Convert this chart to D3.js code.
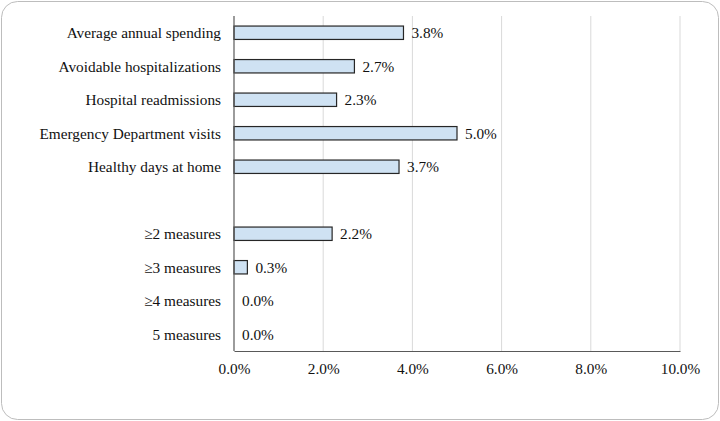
<!DOCTYPE html>
<html>
<head>
<meta charset="utf-8">
<script src="https://cdn.jsdelivr.net/npm/d3@7"></script>
<style>
  html, body { margin: 0; padding: 0; background: #fff; }
  #chart { width: 720px; height: 421px; }
</style>
</head>
<body>
<div id="chart"></div>
<script>
// 데이터
const categories = [
    'Average annual spending',
    'Avoidable hospitalizations',
    'Hospital readmissions',
    'Emergency Department visits',
    'Healthy days at home',
    '',
    '\u22652 measures',
    '\u22653 measures',
    '\u22654 measures',
    '5 measures'
];
const values = [3.8, 2.7, 2.3, 5.0, 3.7, null, 2.2, 0.3, 0.0, 0.0];
const tickValues = [0, 2, 4, 6, 8, 10];

function renderChart() {
    const W = 720, H = 421;
    const margin = {top: 16, right: 40, bottom: 70, left: 234};
    const width = W - margin.left - margin.right;
    const height = H - margin.top - margin.bottom;
    const font = '"Liberation Serif", "Times New Roman", serif';
    const fontSize = '15.3px';

    const root = d3.select('#chart')
        .append('svg')
        .attr('width', W)
        .attr('height', H);

    // 바깥 테두리
    root.append('rect')
        .attr('x', 1.5)
        .attr('y', 1.5)
        .attr('width', W - 3)
        .attr('height', H - 3)
        .attr('rx', 16)
        .attr('fill', '#fff')
        .attr('stroke', '#bdbdbd')
        .attr('stroke-width', 1);

    const svg = root.append('g')
        .attr('transform', `translate(${margin.left},${margin.top})`);

    const x = d3.scaleLinear().domain([0, 10]).range([0, width]);
    const y = d3.scaleBand()
        .domain(categories.map((c, i) => i))
        .range([0, height])
        .paddingInner(0.6)
        .paddingOuter(0.3);

    // 그리드
    svg.append('g')
        .selectAll('line')
        .data(tickValues.filter(t => t > 0))
        .enter()
        .append('line')
        .attr('x1', d => x(d))
        .attr('x2', d => x(d))
        .attr('y1', 0)
        .attr('y2', height)
        .attr('stroke', '#d9d9d9')
        .attr('stroke-width', 1);

    // 막대
    const rows = categories.map((c, i) => ({c, i, v: values[i]}));
    svg.selectAll('.bar')
        .data(rows.filter(d => d.v !== null && d.v > 0))
        .enter()
        .append('rect')
        .attr('class', 'bar')
        .attr('x', x(0))
        .attr('y', d => y(d.i))
        .attr('width', d => x(d.v) - x(0))
        .attr('height', y.bandwidth())
        .attr('fill', '#cfe2f3')
        .attr('stroke', '#262626')
        .attr('stroke-width', 1.2);

    // 값 레이블
    svg.selectAll('.val')
        .data(rows.filter(d => d.v !== null))
        .enter()
        .append('text')
        .attr('class', 'val')
        .attr('x', d => x(d.v) + 8)
        .attr('y', d => y(d.i) + y.bandwidth() / 2)
        .attr('dy', '0.35em')
        .style('font-family', font)
        .style('font-size', fontSize)
        .attr('fill', '#111')
        .text(d => d.v.toFixed(1) + '%');

    // 카테고리 레이블
    svg.selectAll('.cat')
        .data(rows.filter(d => d.c))
        .enter()
        .append('text')
        .attr('class', 'cat')
        .attr('x', -13)
        .attr('y', d => y(d.i) + y.bandwidth() / 2)
        .attr('dy', '0.35em')
        .attr('text-anchor', 'end')
        .style('font-family', font)
        .style('font-size', fontSize)
        .attr('fill', '#111')
        .text(d => d.c);

    // 축
    const xAxis = svg.append('g')
        .attr('transform', `translate(0,${height})`)
        .call(d3.axisBottom(x)
            .tickValues(tickValues)
            .tickSize(0)
            .tickPadding(12)
            .tickFormat(d => d.toFixed(1) + '%'));
    xAxis.select('.domain').attr('stroke', '#595959').attr('stroke-width', 1.2);
    xAxis.selectAll('text')
        .style('font-family', font)
        .style('font-size', fontSize)
        .attr('fill', '#111');

    svg.append('line')
        .attr('x1', 0)
        .attr('x2', 0)
        .attr('y1', 0)
        .attr('y2', height)
        .attr('stroke', '#595959')
        .attr('stroke-width', 1.2);
}

renderChart();
</script>
</body>
</html>
